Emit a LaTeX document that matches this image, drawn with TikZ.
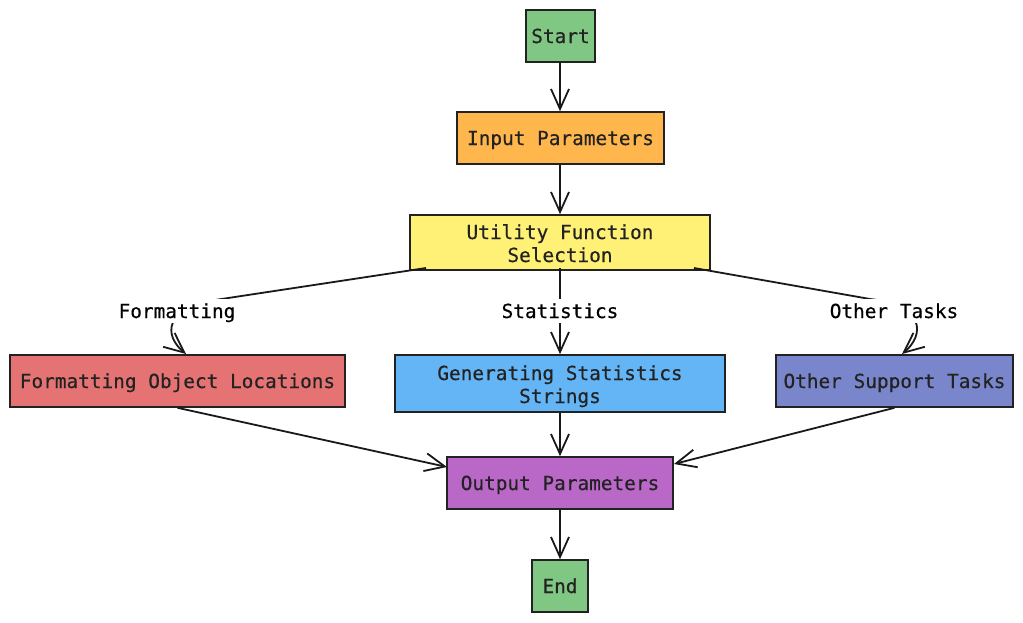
\documentclass[tikz,border=0pt]{standalone}
\usepackage{fontspec}
\setmonofont[FakeBold=0.4]{DejaVu Sans Mono}
\newfontfamily\lblfont[FakeBold=0.4]{DejaVu Sans Mono}
\usetikzlibrary{arrows.meta}
\definecolor{cgreen}{HTML}{81C784}
\definecolor{corange}{HTML}{FFB74D}
\definecolor{cyellow}{HTML}{FFF176}
\definecolor{cred}{HTML}{E57373}
\definecolor{cblue}{HTML}{64B5F6}
\definecolor{cindigo}{HTML}{7986CB}
\definecolor{cpurple}{HTML}{BA68C8}
\definecolor{cborder}{HTML}{222222}
\definecolor{ctext}{HTML}{222222}
\begin{document}
\begin{tikzpicture}[x=1pt,y=-1pt,
  box/.style={draw=cborder, line width=1.6pt, inner sep=0pt, align=center,
    text=ctext, font=\ttfamily\fontsize{19.4}{23}\selectfont,
    text height=17pt, text depth=3pt},
  boxtwo/.style={box, text height=41pt, text depth=2pt},
  lbl/.style={fill=white, inner sep=2pt, text=black,
    font=\lblfont\fontsize{19.4}{23}\selectfont,
    text height=17pt, text depth=3pt},
  arr/.style={line width=1.8pt, draw=black!90,
    -{Straight Barb[length=20pt,width=18pt,line width=1.8pt]}}]
\useasboundingbox (0,0) rectangle (1023,622);
% nodes
\node[box, fill=cgreen, minimum width=69pt, minimum height=52pt] (start) at (560.5,36) {Start};
\node[box, fill=corange, minimum width=207pt, minimum height=52pt] (input) at (560.5,138) {Input Parameters};
\node[boxtwo, fill=cyellow, minimum width=300pt, minimum height=55pt] (util) at (560,242.5) {Utility Function\\Selection};
\node[box, fill=cred, minimum width=335pt, minimum height=52pt] (fmt) at (177.5,381) {Formatting Object Locations};
\node[boxtwo, fill=cblue, minimum width=330pt, minimum height=57pt] (gen) at (560,383.5) {Generating Statistics\\Strings};
\node[box, fill=cindigo, minimum width=237pt, minimum height=52pt] (oth) at (894.5,381) {Other Support Tasks};
\node[box, fill=cpurple, minimum width=226pt, minimum height=52pt] (out) at (560,483) {Output Parameters};
\node[box, fill=cgreen, minimum width=56pt, minimum height=52pt] (end) at (560,586) {End};
% helper coordinates
\coordinate (uL) at (426,268);
\coordinate (uR) at (694,268);
\coordinate (uM) at (560,268);
% edges
\draw[arr] (util.north |- start.south) -- (util.north |- input.north);
\draw[arr] (util.north |- input.south) -- (util.north);
\draw[arr] (uL) -- (215,300) .. controls (165,308) and (163,335) .. (186,354);
\draw[arr] (uM) -- (gen.north);
\draw[arr] (uR) -- (870,299) .. controls (925,305) and (925,335) .. (902,354);
\draw[arr] (fmt.south) -- (447,467);
\draw[arr] (gen.south) -- (out.north);
\draw[arr] (oth.south) -- (674,464);
\draw[arr] (out.south) -- (end.north);
% edge labels
\node[lbl] (lf) at (177,311) {Formatting};
\node[lbl] (ls) at (560,311) {Statistics};
\node[lbl] (lo) at (894,311) {Other Tasks};
\end{tikzpicture}
\end{document}
